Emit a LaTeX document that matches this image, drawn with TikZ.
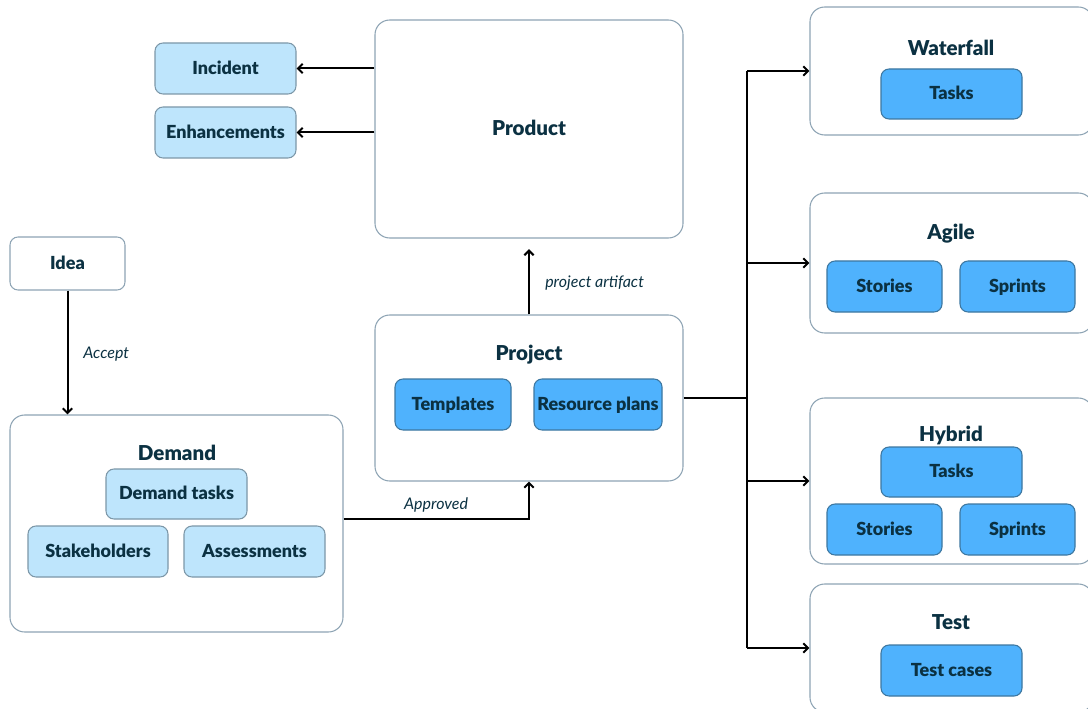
\documentclass[tikz,border=0pt]{standalone}
\usepackage{fontspec}
\setmainfont{Lato}[BoldFont={Lato Black}]
\usetikzlibrary{arrows.meta,fit,calc}
\definecolor{ink}{HTML}{0B3142}
\definecolor{lightfill}{HTML}{BEE5FC}
\definecolor{lightedge}{HTML}{7C97A8}
\definecolor{midfill}{HTML}{4FB2FD}
\definecolor{midedge}{HTML}{3D77A0}
\definecolor{outeredge}{HTML}{8EA4B4}
\tikzset{
  outerbox/.style={draw=outeredge, line width=0.8pt, fill=white, rounded corners=11pt, inner sep=0pt},
  boxtext/.style={text=ink, font=\bfseries\fontsize{13.5}{15}\selectfont, inner sep=0pt, text height=9.5pt, text depth=1.1pt},
  lightbox/.style={draw=lightedge, line width=0.8pt, fill=lightfill, rounded corners=6pt, inner sep=0pt, label={[boxtext]center:#1}},
  midbox/.style={draw=midedge, line width=0.8pt, fill=midfill, rounded corners=6pt, inner sep=0pt, label={[boxtext]center:#1}},
  title/.style={text=ink, font=\bfseries\fontsize{15.4}{17}\selectfont, inner sep=0pt, text height=10.8pt, text depth=1.3pt},
  elabel/.style={text=ink, font=\itshape\fontsize{12}{14}\selectfont, inner sep=0pt},
  arr/.style={-{Straight Barb[length=3.5pt,width=7pt]}, line width=1.5pt, black},
  conn/.style={line width=1.5pt, black},
}
\begin{document}
\begin{tikzpicture}[x=0.75pt,y=-0.75pt]
\useasboundingbox (0,0) rectangle (1088,709);
\clip (0,0) rectangle (1088,709);
% Product
\node[outerbox, fit={(375,20) (683,238)}] (prod) {};
\node[title] (prodt) at (529,129) {Product};
\node[lightbox=Incident, fit={(155,43) (296,94)}] (inc) {};
\node[lightbox=Enhancements, fit={(155,107) (296,158)}] (enh) {};
% Idea
\node[outerbox, rounded corners=6pt, fit={(10,237) (125,290)}, label={[boxtext]center:Idea}] (idea) {};
% Demand
\node[outerbox, fit={(10,415) (343,632)}] (dem) {};
\node[title] (demt) at (177,454) {Demand};
\node[lightbox=Demand tasks, fit={(106,469) (247,519)}] (demtask) {};
\node[lightbox=Stakeholders, fit={(28,526) (168,577)}] (stake) {};
\node[lightbox=Assessments, fit={(184,526) (325,577)}] (assess) {};
% Project
\node[outerbox, fit={(375,315) (683,481)}] (proj) {};
\node[title] (projt) at (529,354) {Project};
\node[midbox=Templates, fit={(395,379) (511,430)}] (templ) {};
\node[midbox=Resource plans, fit={(534,379) (662,430)}] (resp) {};
% Waterfall
\node[outerbox, fit={(810,7) (1093,135)}] (wf) {};
\node[title] (wft) at (951,49) {Waterfall};
\node[midbox=Tasks, fit={(881,69) (1022,119)}] (wftask) {};
% Agile
\node[outerbox, fit={(810,193) (1093,333)}] (ag) {};
\node[title] (agt) at (951,233) {Agile};
\node[midbox=Stories, fit={(827,261) (942,312)}] (agst) {};
\node[midbox=Sprints, fit={(960,261) (1075,312)}] (agsp) {};
% Hybrid
\node[outerbox, fit={(810,398) (1093,564)}] (hy) {};
\node[title] (hyt) at (951,435) {Hybrid};
\node[midbox=Tasks, fit={(881,447) (1022,497)}] (hytask) {};
\node[midbox=Stories, fit={(827,504) (942,555)}] (hyst) {};
\node[midbox=Sprints, fit={(960,504) (1075,555)}] (hysp) {};
% Test
\node[outerbox, fit={(810,584) (1093,712)}] (test) {};
\node[title] (testt) at (951,623) {Test};
\node[midbox=Test cases, fit={(881,645) (1022,696)}] (tcase) {};
% connectors
\draw[arr] (inc.east -| prod.west) -- (inc.east);
\draw[arr] (enh.east -| prod.west) -- (enh.east);
\draw[arr] (idea.south) -- (idea.south |- dem.north);
\node[elabel, anchor=west] (acc) at (83,354) {Accept};
\draw[arr, shorten >=8pt] (proj.north) -- (prod.south);
\node[elabel, anchor=west] (pa) at (545,283) {project artifact};
\draw[arr] ([yshift=3.4pt]dem.east) -| (proj.south);
\node[elabel] (appr) at (436,505) {Approved};
\coordinate (bus) at (747,398);
\draw[conn] (proj.east) -- (bus);
\draw[conn] (bus |- wf.west) -- (bus |- test.west);
\draw[arr] (bus |- wf.west) -- (wf.west);
\draw[arr] (bus |- ag.west) -- (ag.west);
\draw[arr] (bus |- hy.west) -- (hy.west);
\draw[arr] (bus |- test.west) -- (test.west);
\end{tikzpicture}
\end{document}
